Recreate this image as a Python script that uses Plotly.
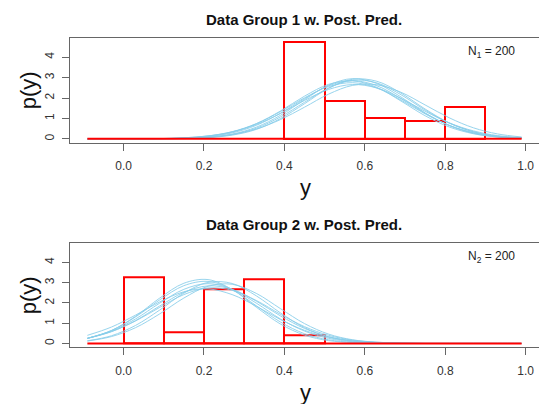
import plotly.graph_objects as go

# ---------------- data ----------------
x_grid = [-0.09, -0.03, 0.03, 0.09, 0.15, 0.21, 0.27, 0.33, 0.39, 0.45,
          0.51, 0.57, 0.63, 0.69, 0.75, 0.81, 0.87, 0.93, 0.99]

g1_curves = [
    [0, 0, 0, 0.00, 0.02, 0.08, 0.23, 0.57, 1.15, 1.92, 2.63, 2.95, 2.71, 2.05, 1.27, 0.65, 0.27, 0.09, 0.03],
    [0, 0, 0, 0.01, 0.03, 0.11, 0.29, 0.66, 1.25, 1.97, 2.60, 2.85, 2.60, 1.97, 1.25, 0.66, 0.29, 0.11, 0.03],
    [0, 0, 0, 0.00, 0.02, 0.07, 0.21, 0.52, 1.07, 1.79, 2.49, 2.87, 2.74, 2.16, 1.41, 0.77, 0.34, 0.13, 0.04],
    [0, 0, 0, 0.01, 0.05, 0.14, 0.35, 0.74, 1.33, 2.01, 2.56, 2.75, 2.49, 1.90, 1.22, 0.66, 0.30, 0.12, 0.04],
    [0, 0, 0, 0.01, 0.02, 0.08, 0.21, 0.48, 0.94, 1.55, 2.19, 2.62, 2.65, 2.28, 1.66, 1.03, 0.54, 0.24, 0.09],
    [0, 0, 0, 0.00, 0.01, 0.06, 0.18, 0.46, 0.99, 1.72, 2.48, 2.92, 2.82, 2.24, 1.46, 0.78, 0.35, 0.12, 0.04],
    [0, 0, 0, 0.01, 0.04, 0.13, 0.33, 0.74, 1.36, 2.09, 2.67, 2.84, 2.52, 1.85, 1.13, 0.58, 0.25, 0.09, 0.03],
    [0, 0, 0, 0.01, 0.05, 0.14, 0.34, 0.70, 1.24, 1.88, 2.42, 2.66, 2.49, 1.98, 1.35, 0.78, 0.39, 0.16, 0.06],
]

g2_curves = [
    [0.25, 0.64, 1.31, 2.15, 2.85, 3.06, 2.66, 1.86, 1.06, 0.48, 0.18, 0.05, 0.01, 0, 0, 0, 0, 0, 0],
    [0.25, 0.61, 1.21, 1.99, 2.67, 2.95, 2.67, 1.99, 1.21, 0.61, 0.25, 0.08, 0.02, 0.01, 0, 0, 0, 0, 0],
    [0.25, 0.58, 1.13, 1.85, 2.52, 2.84, 2.67, 2.09, 1.36, 0.74, 0.33, 0.13, 0.04, 0.01, 0, 0, 0, 0, 0],
    [0.25, 0.64, 1.34, 2.24, 2.97, 3.15, 2.66, 1.79, 0.96, 0.41, 0.14, 0.04, 0.01, 0, 0, 0, 0, 0, 0],
    [0.12, 0.34, 0.78, 1.46, 2.24, 2.82, 2.92, 2.47, 1.72, 0.98, 0.46, 0.18, 0.06, 0.01, 0, 0, 0, 0, 0],
    [0.26, 0.59, 1.11, 1.78, 2.41, 2.74, 2.62, 2.12, 1.44, 0.83, 0.40, 0.16, 0.06, 0.02, 0, 0, 0, 0, 0],
    [0.13, 0.38, 0.89, 1.65, 2.48, 3.01, 2.96, 2.35, 1.51, 0.78, 0.33, 0.11, 0.03, 0.01, 0, 0, 0, 0, 0],
    [0.40, 0.81, 1.40, 2.05, 2.55, 2.69, 2.41, 1.84, 1.18, 0.65, 0.30, 0.12, 0.04, 0.01, 0, 0, 0, 0, 0],
]

bin_centers1 = [0.45, 0.55, 0.65, 0.75, 0.85]
density1 = [4.75, 1.85, 1.00, 0.85, 1.55]
bin_centers2 = [0.05, 0.15, 0.25, 0.35, 0.45]
density2 = [3.25, 0.55, 2.65, 3.15, 0.40]
bin_width = 0.1

data_lim = [-0.09, 0.99]
x_ticks = [0.0, 0.2, 0.4, 0.6, 0.8, 1.0]
x_tick_labels = ["0.0", "0.2", "0.4", "0.6", "0.8", "1.0"]
y_ticks = [0, 1, 2, 3, 4]

titles = ["Data Group 1 w. Post. Pred.", "Data Group 2 w. Post. Pred."]
n_labels = ["N<sub>1</sub> = 200", "N<sub>2</sub> = 200"]

# ---------------- figure ----------------
FONT = "Liberation Sans, Arial, sans-serif"
CURVE = "#87CEEB"
RED = "#FF0000"
AXC = "#666666"

fig = go.Figure()

panels = [
    ("x", "y", g1_curves, bin_centers1, density1),
    ("x2", "y2", g2_curves, bin_centers2, density2),
]
for xa, ya, curves, centers, dens in panels:
    for c in curves:
        fig.add_trace(go.Scatter(x=x_grid, y=c, mode="lines", xaxis=xa, yaxis=ya,
                                 line=dict(color=CURVE, width=1, shape="spline"),
                                 opacity=0.85, showlegend=False, hoverinfo="skip"))
    fig.add_trace(go.Bar(x=centers, y=dens, width=bin_width, xaxis=xa, yaxis=ya,
                         marker=dict(color="rgba(0,0,0,0)", line=dict(color=RED, width=2)),
                         showlegend=False, hoverinfo="skip"))
    fig.add_trace(go.Scatter(x=data_lim, y=[0, 0], mode="lines", xaxis=xa, yaxis=ya,
                             line=dict(color=RED, width=2), showlegend=False, hoverinfo="skip"))

W, H = 539, 404
L = 70
PW = W - L
xrange_ = [-0.1332, 1.0332]
yrange_ = [-0.19, 4.94]

def ydom(top_px, bot_px):
    return [(H - bot_px) / H, (H - top_px) / H]

def px_x(px):
    return (px - L) / PW

def px_y(py):
    return (H - py) / H

xaxis_common = dict(range=xrange_, tickvals=x_ticks, ticktext=x_tick_labels,
                    showline=True, linecolor=AXC, linewidth=1, mirror=True,
                    ticks="outside", ticklen=7, tickcolor=AXC, tickwidth=1,
                    showgrid=False, zeroline=False, ticklabelstandoff=5,
                    tickfont=dict(family=FONT, size=12, color="#333333"))
yaxis_common = dict(range=yrange_, tickvals=y_ticks,
                    showline=True, linecolor=AXC, linewidth=1, mirror=False,
                    ticks="outside", ticklen=7, tickcolor=AXC, tickwidth=1,
                    showgrid=False, zeroline=False, tickangle=-90, ticklabelstandoff=3,
                    tickfont=dict(family=FONT, size=12, color="#333333"))

fig.update_layout(
    width=W, height=H,
    margin=dict(l=L, r=0, t=0, b=0, autoexpand=False),
    paper_bgcolor="white", plot_bgcolor="white",
    barmode="overlay", bargap=0,
    xaxis=dict(domain=[0, 1], anchor="y", **xaxis_common),
    yaxis=dict(domain=ydom(38, 142.7), anchor="x", **yaxis_common),
    xaxis2=dict(domain=[0, 1], anchor="y2", **xaxis_common),
    yaxis2=dict(domain=ydom(243.3, 347.3), anchor="x2", **yaxis_common),
)

ann = []
for i, (title_y, lab_y, py_y, n_y) in enumerate([(19, 187, 90.3, 52), (224, 392, 295.3, 256.7)]):
    ann.append(dict(text="<b>" + titles[i] + "</b>", x=px_x(304), y=px_y(title_y),
                    xref="paper", yref="paper", showarrow=False, xanchor="center", yanchor="middle",
                    font=dict(family=FONT, size=15, color="#111111")))
    ann.append(dict(text="y", x=px_x(305), y=px_y(lab_y), xref="paper", yref="paper",
                    showarrow=False, xanchor="center", yanchor="middle",
                    font=dict(family=FONT, size=22, color="#111111")))
    ann.append(dict(text="p(y)", x=px_x(28), y=px_y(py_y), xref="paper", yref="paper",
                    showarrow=False, xanchor="center", yanchor="middle", textangle=-90,
                    font=dict(family=FONT, size=22, color="#111111")))
    ann.append(dict(text=n_labels[i], x=px_x(517), y=px_y(n_y), xref="paper", yref="paper",
                    showarrow=False, xanchor="right", yanchor="middle",
                    font=dict(family=FONT, size=12, color="#222222")))
fig.update_layout(annotations=ann)

fig.write_html("out.html", config={"displayModeBar": False},
               post_script="document.body.style.margin='0';document.body.style.padding='0';")
